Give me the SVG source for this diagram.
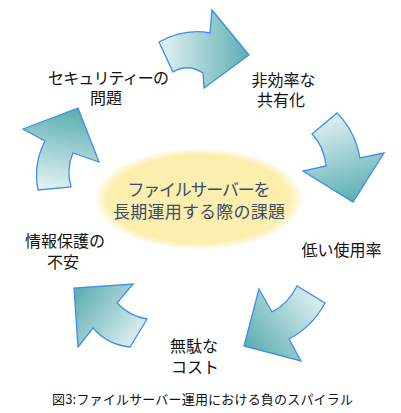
<svg xmlns="http://www.w3.org/2000/svg" width="401" height="413" viewBox="0 0 401 413">
<style>
.arrow{stroke:#3f8fe8;stroke-width:1.3;stroke-linejoin:miter}
.lbl{font-family:"Noto Sans CJK JP","Noto Sans",sans-serif;font-size:16px;fill:#111;text-anchor:middle}
.ctr{font-family:"Noto Sans CJK JP","Noto Sans",sans-serif;font-size:17px;fill:#3b4d6c;text-anchor:middle}
.cap{font-family:"Noto Sans CJK JP","Noto Sans",sans-serif;font-size:13px;fill:#111}
</style>
<defs>
<radialGradient id="ellg" cx="0.5" cy="0.5" r="0.5">
<stop offset="0" stop-color="#fcefae"/>
<stop offset="0.88" stop-color="#fcefae"/>
<stop offset="1" stop-color="#fcefae" stop-opacity="0.2"/>
</radialGradient>
<linearGradient id="g1" gradientUnits="userSpaceOnUse" x1="160" y1="55" x2="249" y2="55">
<stop offset="0" stop-color="#e3f2f3"/><stop offset="1" stop-color="#5caeb2"/>
</linearGradient>
<linearGradient id="g2" gradientUnits="userSpaceOnUse" x1="325" y1="115" x2="352" y2="202">
<stop offset="0" stop-color="#e3f2f3"/><stop offset="1" stop-color="#5caeb2"/>
</linearGradient>
<linearGradient id="g3" gradientUnits="userSpaceOnUse" x1="318" y1="290" x2="246" y2="346">
<stop offset="0" stop-color="#e3f2f3"/><stop offset="1" stop-color="#5caeb2"/>
</linearGradient>
<linearGradient id="g4" gradientUnits="userSpaceOnUse" x1="142" y1="340" x2="76" y2="290">
<stop offset="0" stop-color="#e3f2f3"/><stop offset="1" stop-color="#5caeb2"/>
</linearGradient>
<linearGradient id="g5" gradientUnits="userSpaceOnUse" x1="55" y1="190" x2="70" y2="110">
<stop offset="0" stop-color="#e3f2f3"/><stop offset="1" stop-color="#5caeb2"/>
</linearGradient>
</defs>
<rect width="401" height="413" fill="#fff"/>
<g id="connectors">
<path id="arrow1" class="arrow" fill="url(#g1)" d="M159,42 Q185,28 210,33 L212,10 L249,55 L204,88 L203,73 Q188,63 173,72 Z"/>
<path id="arrow2" class="arrow" fill="url(#g2)" d="M337,113 Q355,131 360,158 L384,153 L353,202 L303,171 L326,166 Q324,146 312,134 Z"/>
<path id="arrow3" class="arrow" fill="url(#g3)" d="M325,303 Q312,327 289,339 L301,361 L244,346 L259,289 L272,312 Q288,304 297,286 Z"/>
<path id="arrow4" class="arrow" fill="url(#g4)" d="M147,319 Q129,316 117,303 L133,284 L74,288 L78,347 L93,328 Q108,345 130,347 Z"/>
<path id="arrow5" class="arrow" fill="url(#g5)" d="M71,187 Q66,169 73,153 L99,162 L78,108 L23,129 L45,141 Q33,164 38,190 Z"/>
</g>
<g id="center">
<ellipse cx="199" cy="199" rx="103" ry="50" fill="url(#ellg)"/>
<text class="ctr"><tspan x="199" y="196" textLength="143">ファイルサーバーを</tspan><tspan x="199" y="218" textLength="172">長期運用する際の課題</tspan></text>
</g>
<g id="security">
<text class="lbl"><tspan x="108.5" y="84" textLength="121">セキュリティーの</tspan><tspan x="106" y="104">問題</tspan></text>
</g>
<g id="sharing">
<text class="lbl"><tspan x="283.5" y="86">非効率な</tspan><tspan x="281" y="106">共有化</tspan></text>
</g>
<g id="usage">
<text class="lbl" x="341.5" y="256">低い使用率</text>
</g>
<g id="cost">
<text class="lbl"><tspan x="194" y="352">無駄な</tspan><tspan x="195" y="373">コスト</tspan></text>
</g>
<g id="protection">
<text class="lbl"><tspan x="65" y="247">情報保護の</tspan><tspan x="63" y="268">不安</tspan></text>
</g>
<g id="caption">
<text class="cap" x="52" y="404" textLength="301">図3:ファイルサーバー運用における負のスパイラル</text>
</g>
</svg>
